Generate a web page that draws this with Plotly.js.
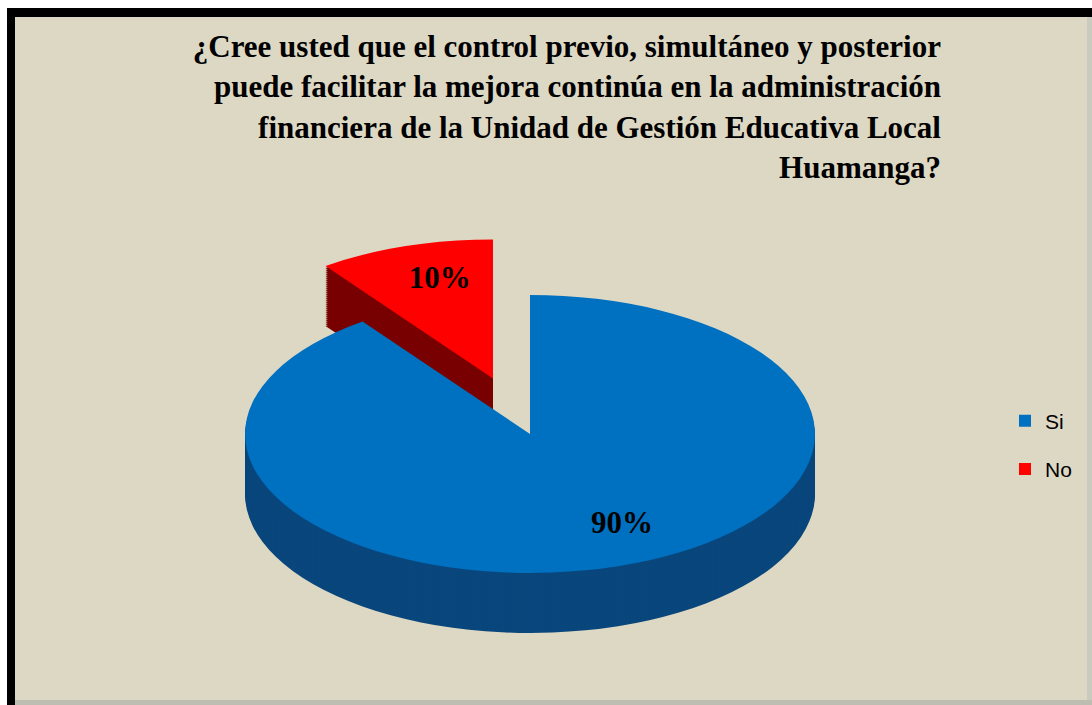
<!DOCTYPE html>
<html>
<head>
<meta charset="utf-8">
<script src="https://cdn.plot.ly/plotly-3.0.1.min.js"></script>
<style>
  html, body { margin: 0; padding: 0; background: #ffffff; }
  #chart { width: 1092px; height: 705px; }
</style>
</head>
<body>
<div id="chart"></div>
<script>
// ---- data ----
const categories = ['Si', 'No'];
const values = [90, 10];
const titleText = '¿Cree usted que el control previo, simultáneo y posterior<br>puede facilitar la mejora continúa en la administración<br>financiera de la Unidad de Gestión Educativa Local<br>Huamanga?';

// ---- style ----
const topColors = ['#0070C0', '#FF0000'];
const sideColors = ['#09467C', '#780000'];
const pulls = [0, 0.42];
const labelNudges = [[48, 22], [14, 0]];   // label fine-tuning (px) for the pseudo-3D view

const W = 1092, H = 705;
const CX = 530, CY = 434;     // centre of top face (px)
const R = 139;                // vertical radius (px)
const K = 2.05;               // horizontal stretch
const DEPTH = 60;
const STEP = 2;
const LEGEND_GAP = 18;
const D = 2 * R * (1 + Math.max(...pulls));
function px2x(x) { return x / W; }
function px2y(y) { return 1 - y / H; }

function domainFor(shift) {
  return {
    x: [px2x(CX - D / 2), px2x(CX + D / 2)],
    y: [px2y(CY + shift + D / 2), px2y(CY + shift - D / 2)]
  };
}

const traces = [];
for (let s = DEPTH; s > 0; s -= STEP) {
  traces.push({
    type: 'pie', labels: categories, values: values,
    sort: false, direction: 'clockwise', rotation: 0,
    pull: pulls, domain: domainFor(s),
    marker: { colors: sideColors, line: { width: 0 } },
    textinfo: 'none', hoverinfo: 'skip', showlegend: false
  });
}
traces.push({
  type: 'pie', labels: categories, values: values,
  sort: false, direction: 'clockwise', rotation: 0,
  pull: pulls, domain: domainFor(0),
  marker: { colors: topColors, line: { width: 0 } },
  textinfo: 'percent', textposition: 'inside',
  insidetextorientation: 'horizontal',
  textfont: { family: 'Liberation Serif', size: 31, color: '#000000', weight: 'bold' },
  hoverinfo: 'skip', showlegend: true
});

const shapes = [
  { type: 'rect', xref: 'paper', yref: 'paper', x0: 0, x1: 1, y0: px2y(8), y1: 1, fillcolor: '#ffffff', line: { width: 0 } },
  { type: 'rect', xref: 'paper', yref: 'paper', x0: 0, x1: px2x(7), y0: 0, y1: 1, fillcolor: '#ffffff', line: { width: 0 } },
  { type: 'rect', xref: 'paper', yref: 'paper', x0: px2x(7), x1: 1, y0: px2y(17), y1: px2y(8), fillcolor: '#000000', line: { width: 0 } },
  { type: 'rect', xref: 'paper', yref: 'paper', x0: px2x(7), x1: px2x(15), y0: 0, y1: px2y(8), fillcolor: '#000000', line: { width: 0 } },
  { type: 'rect', xref: 'paper', yref: 'paper', x0: px2x(1087), x1: 1, y0: 0, y1: px2y(17), fillcolor: '#C8CBBD', line: { width: 0 } },
  { type: 'rect', xref: 'paper', yref: 'paper', x0: px2x(15), x1: 1, y0: 0, y1: px2y(700), fillcolor: '#BDBDB2', line: { width: 0 } }
];

const layout = {
  width: W, height: H,
  margin: { l: 0, r: 0, t: 0, b: 0 },
  paper_bgcolor: '#DDD8C3',
  title: {
    text: titleText,
    x: 941 / W, xanchor: 'right', xref: 'container',
    y: 1 - 57 / H, yanchor: 'top', yref: 'container',
    font: { family: 'Liberation Serif', size: 31, color: '#000000', weight: 'bold' }
  },
  legend: {
    x: px2x(1005), xanchor: 'left',
    y: px2y(445), yanchor: 'middle',
    font: { family: 'Liberation Sans', size: 21, color: '#000000' },
    bgcolor: 'rgba(0,0,0,0)'
  },
  uniformtext: { minsize: 31, mode: 'show' },
  shapes: shapes,
  showlegend: true
};

function squash(gd) {
  const layer = gd.querySelector('.pielayer');
  if (!layer) return;
  layer.setAttribute('transform', `translate(${CX},0) scale(${K},1) translate(${-CX},0)`);
  const texts = layer.querySelectorAll('g.slicetext');
  texts.forEach((g, i) => {
    g.removeAttribute('transform');
    const b = g.getBBox();
    const tx = b.x + b.width / 2;
    const n = labelNudges[i] || [0, 0];
    g.setAttribute('transform', `translate(${tx + n[0] / K},${n[1]}) scale(${1 / K},1) translate(${-tx},0)`);
  });
  const items = gd.querySelectorAll('.legend g.traces');
  items.forEach((g, i) => {
    if (!g.dataset.y0) {
      const m = /translate\(\s*([-\d.e]+)[ ,]+([-\d.e]+)\s*\)/.exec(g.getAttribute('transform') || '');
      g.dataset.x0 = m ? m[1] : 0;
      g.dataset.y0 = m ? m[2] : 0;
    }
    const y = parseFloat(g.dataset.y0) + (i - (items.length - 1) / 2) * LEGEND_GAP;
    g.setAttribute('transform', `translate(${g.dataset.x0},${y})`);
  });
}

const gd = document.getElementById('chart');
Plotly.newPlot(gd, traces, layout, { staticPlot: true, displayModeBar: false }).then(() => {
  squash(gd);
  gd.on('plotly_afterplot', () => squash(gd));
});
</script>
</body>
</html>
